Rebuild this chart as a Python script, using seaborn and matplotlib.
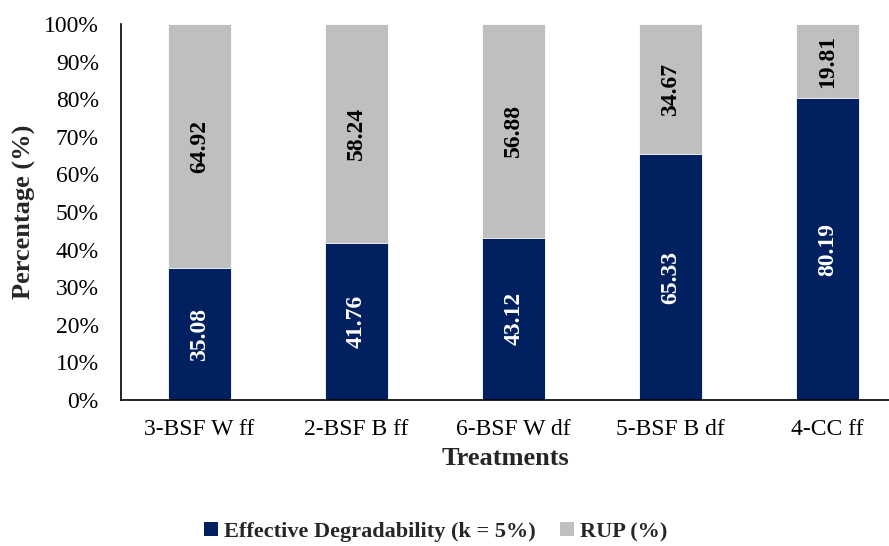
import matplotlib
matplotlib.use("Agg")
import matplotlib.pyplot as plt
import seaborn as sns
import pandas as pd
from matplotlib.ticker import FuncFormatter
from matplotlib.patches import Patch

treatments = ["3-BSF W ff", "2-BSF B ff", "6-BSF W df", "5-BSF B df", "4-CC ff"]
effective_degradability = [35.08, 41.76, 43.12, 65.33, 80.19]
rup = [64.92, 58.24, 56.88, 34.67, 19.81]

navy = "#002060"
grey = "#BFBFBF"

sns.set_theme(style="white")
plt.rcParams["font.family"] = ["Liberation Serif", "DejaVu Serif"]

df = pd.DataFrame({
    "Treatment": treatments,
    "ED": effective_degradability,
    "RUP": rup,
})
df["Total"] = df["ED"] + df["RUP"]

fig = plt.figure(figsize=(8.89, 5.46), dpi=100)
ax = fig.add_axes([121 / 889, 1 - 400 / 546, 1 - 121 / 889, (400 - 24) / 546])

# stacked bars: RUP segment sits on top of the effective degradability segment
sns.barplot(data=df, x="Treatment", y="Total", color=grey, saturation=1,
            width=0.4, ax=ax, edgecolor="white", linewidth=0.6)
sns.barplot(data=df, x="Treatment", y="ED", color=navy, saturation=1,
            width=0.4, ax=ax, edgecolor="white", linewidth=0.6)

for i, (e, r) in enumerate(zip(df["ED"], df["RUP"])):
    ax.text(i, e / 2, f"{e:.2f}", rotation=90, ha="center", va="center",
            color="white", fontsize=17, fontweight="bold")
    ax.text(i, e + r / 2, f"{r:.2f}", rotation=90, ha="center", va="center",
            color="black", fontsize=17, fontweight="bold")

ax.set_ylim(0, 100)
ax.set_xlim(-0.5, 4.39)
ax.set_yticks(range(0, 101, 10))
ax.yaxis.set_major_formatter(FuncFormatter(lambda v, _: f"{v:.0f}%"))
ax.tick_params(axis="both", length=0, labelsize=17, colors="black")
ax.tick_params(axis="y", pad=16)
ax.tick_params(axis="x", pad=14)

for s in ["top", "right"]:
    ax.spines[s].set_visible(False)
for s in ["left", "bottom"]:
    ax.spines[s].set_color("black")
    ax.spines[s].set_linewidth(1.2)

ax.set_ylabel("Percentage (%)", fontsize=19, fontweight="bold", labelpad=6)
ax.set_xlabel("Treatments", fontsize=19, fontweight="bold", labelpad=5)

handles = [Patch(facecolor=navy, edgecolor="none"), Patch(facecolor=grey, edgecolor="none")]
fig.legend(handles, ["Effective Degradability (k = 5%)", "RUP (%)"],
           loc="center", bbox_to_anchor=(436 / 889, 1 - 532 / 546), ncol=2, frameon=False,
           prop={"weight": "bold", "size": 16}, handlelength=0.6, handleheight=0.6,
           handletextpad=0.3, columnspacing=1.1)

fig.savefig("out.png", dpi=100)
